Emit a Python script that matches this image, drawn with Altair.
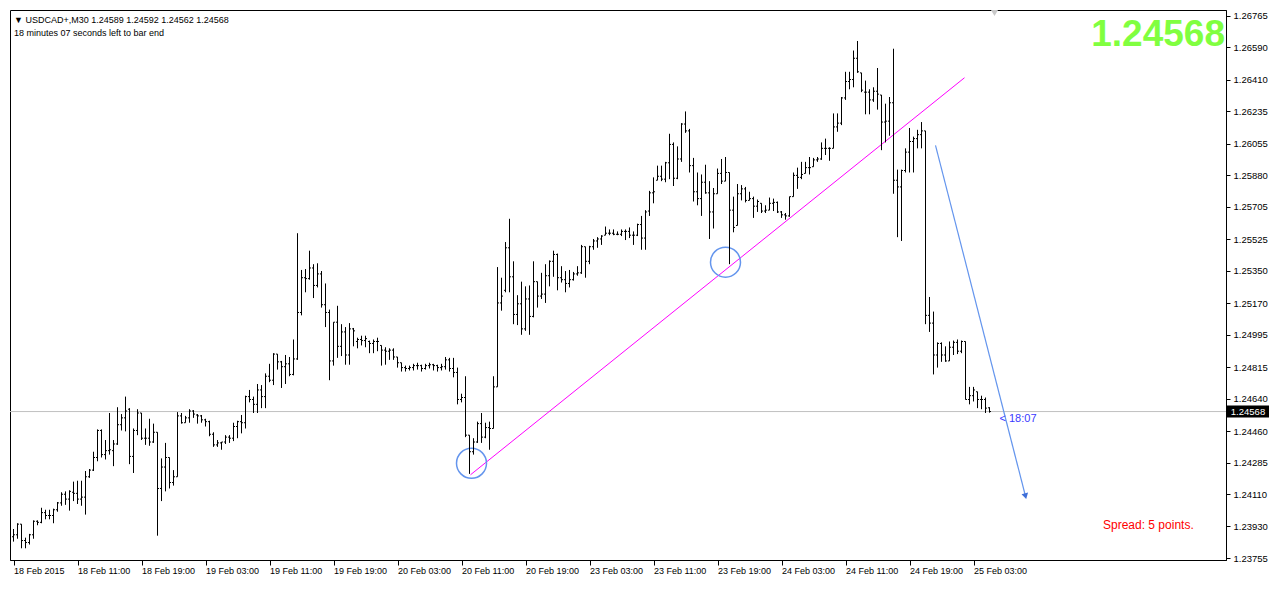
import altair as alt
import pandas as pd

# ---------------- data (USDCAD+, M30, bar 0 = 18 Feb 2015 03:00) ----------------
OPEN = [
    1.23873, 1.23884, 1.23943, 1.23852, 1.23841, 1.23884, 1.23959, 1.23953, 1.24007, 1.23991,
    1.23991, 1.24023, 1.24061, 1.24109, 1.24082, 1.24120, 1.24114, 1.24082, 1.24093, 1.24206,
    1.24243, 1.24313, 1.24463, 1.24329, 1.24351, 1.24351, 1.24388, 1.24495, 1.24533, 1.24581,
    1.24319, 1.24463, 1.24560, 1.24420, 1.24420, 1.24399, 1.24453, 1.24141, 1.24260, 1.24313,
    1.24174, 1.24206, 1.24544, 1.24506, 1.24533, 1.24571, 1.24549, 1.24544, 1.24522, 1.24512,
    1.24442, 1.24383, 1.24394, 1.24399, 1.24426, 1.24420, 1.24485, 1.24512, 1.24506, 1.24651,
    1.24635, 1.24608, 1.24688, 1.24651, 1.24764, 1.24742, 1.24887, 1.24844, 1.24817, 1.24833,
    1.24774, 1.24860, 1.25118, 1.25311, 1.25306, 1.25365, 1.25268, 1.25332, 1.25161, 1.25118,
    1.24849, 1.25064, 1.24930, 1.25010, 1.24882, 1.25027, 1.24957, 1.24968, 1.24962, 1.24957,
    1.24946, 1.24957, 1.24935, 1.24909, 1.24903, 1.24909, 1.24871, 1.24839, 1.24812, 1.24807,
    1.24812, 1.24823, 1.24823, 1.24807, 1.24823, 1.24828, 1.24823, 1.24812, 1.24817, 1.24855,
    1.24807, 1.24785, 1.24635, 1.24646, 1.24437, 1.24345, 1.24399, 1.24501, 1.24426, 1.24479,
    1.24474, 1.24705, 1.25171, 1.25241, 1.25477, 1.25316, 1.25107, 1.25166, 1.25027, 1.25193,
    1.25096, 1.25289, 1.25209, 1.25220, 1.25322, 1.25402, 1.25440, 1.25311, 1.25300, 1.25279,
    1.25300, 1.25332, 1.25338, 1.25483, 1.25402, 1.25483, 1.25515, 1.25526, 1.25547, 1.25558,
    1.25558, 1.25552, 1.25552, 1.25568, 1.25568, 1.25547, 1.25547, 1.25606, 1.25531, 1.25681,
    1.25782, 1.25852, 1.25874, 1.25858, 1.25949, 1.26051, 1.25863, 1.25970, 1.26164, 1.26126,
    1.25933, 1.25788, 1.25750, 1.25841, 1.25782, 1.25676, 1.25777, 1.25890, 1.25847, 1.25895,
    1.25686, 1.25601, 1.25777, 1.25804, 1.25740, 1.25750, 1.25708, 1.25724, 1.25681, 1.25686,
    1.25724, 1.25729, 1.25676, 1.25660, 1.25654, 1.25761, 1.25879, 1.25868, 1.25890, 1.25922,
    1.25927, 1.25965, 1.25970, 1.26029, 1.26029, 1.26029, 1.26148, 1.26169, 1.26309, 1.26400,
    1.26411, 1.26529, 1.26448, 1.26341, 1.26341, 1.26298, 1.26346, 1.26325, 1.26175, 1.26180,
    1.26282, 1.25852, 1.25815, 1.25906, 1.26008, 1.26067, 1.26083, 1.26105, 1.26126, 1.25102,
    1.25059, 1.24882, 1.24946, 1.24882, 1.24849, 1.24925, 1.24952, 1.24903, 1.24957, 1.24635,
    1.24656, 1.24678, 1.24635, 1.24635, 1.24589,
]
HIGH = [
    1.23916, 1.23948, 1.23943, 1.23868, 1.23889, 1.23964, 1.23964, 1.24034, 1.24023, 1.24023,
    1.24029, 1.24066, 1.24120, 1.24125, 1.24131, 1.24179, 1.24184, 1.24184, 1.24238, 1.24249,
    1.24345, 1.24469, 1.24469, 1.24410, 1.24560, 1.24410, 1.24592, 1.24554, 1.24651, 1.24587,
    1.24474, 1.24581, 1.24560, 1.24474, 1.24528, 1.24501, 1.24453, 1.24308, 1.24394, 1.24313,
    1.24243, 1.24565, 1.24560, 1.24544, 1.24581, 1.24576, 1.24554, 1.24549, 1.24528, 1.24517,
    1.24453, 1.24410, 1.24399, 1.24437, 1.24437, 1.24506, 1.24517, 1.24549, 1.24656, 1.24688,
    1.24651, 1.24721, 1.24715, 1.24780, 1.24833, 1.24892, 1.24887, 1.24849, 1.24882, 1.24871,
    1.24968, 1.25558, 1.25354, 1.25359, 1.25461, 1.25386, 1.25391, 1.25348, 1.25279, 1.25134,
    1.25064, 1.25155, 1.25053, 1.25037, 1.25059, 1.25032, 1.24978, 1.24989, 1.24989, 1.24962,
    1.24968, 1.24978, 1.24935, 1.24925, 1.24919, 1.24919, 1.24871, 1.24839, 1.24823, 1.24823,
    1.24833, 1.24839, 1.24828, 1.24833, 1.24839, 1.24833, 1.24828, 1.24833, 1.24871, 1.24866,
    1.24866, 1.24812, 1.24667, 1.24764, 1.24437, 1.24420, 1.24512, 1.24560, 1.24506, 1.24512,
    1.24764, 1.25370, 1.25311, 1.25509, 1.25638, 1.25402, 1.25214, 1.25289, 1.25263, 1.25268,
    1.25402, 1.25289, 1.25338, 1.25386, 1.25407, 1.25461, 1.25445, 1.25375, 1.25348, 1.25354,
    1.25343, 1.25375, 1.25493, 1.25483, 1.25488, 1.25526, 1.25536, 1.25547, 1.25595, 1.25579,
    1.25579, 1.25568, 1.25579, 1.25579, 1.25590, 1.25568, 1.25611, 1.25654, 1.25686, 1.25793,
    1.25868, 1.25933, 1.25933, 1.25954, 1.26110, 1.26062, 1.26040, 1.26169, 1.26234, 1.26137,
    1.25976, 1.25895, 1.25884, 1.25938, 1.25847, 1.25809, 1.25917, 1.25970, 1.25981, 1.25895,
    1.25761, 1.25831, 1.25825, 1.25815, 1.25788, 1.25761, 1.25745, 1.25724, 1.25713, 1.25756,
    1.25750, 1.25734, 1.25681, 1.25670, 1.25761, 1.25895, 1.25922, 1.25954, 1.25954, 1.25981,
    1.25976, 1.25981, 1.26062, 1.26083, 1.26035, 1.26223, 1.26223, 1.26314, 1.26454, 1.26454,
    1.26572, 1.26625, 1.26448, 1.26405, 1.26357, 1.26368, 1.26475, 1.26325, 1.26277, 1.26314,
    1.26582, 1.25911, 1.25911, 1.26029, 1.26142, 1.26094, 1.26132, 1.26175, 1.26126, 1.25204,
    1.25123, 1.24952, 1.24952, 1.24930, 1.24957, 1.24962, 1.24968, 1.24962, 1.24957, 1.24705,
    1.24705, 1.24678, 1.24656, 1.24646, 1.24592,
]
LOW = [
    1.23846, 1.23862, 1.23809, 1.23809, 1.23830, 1.23862, 1.23937, 1.23948, 1.23970, 1.23970,
    1.23948, 1.24012, 1.24045, 1.24050, 1.24018, 1.24071, 1.24055, 1.24045, 1.23996, 1.24200,
    1.24238, 1.24292, 1.24313, 1.24302, 1.24329, 1.24265, 1.24383, 1.24463, 1.24458, 1.24276,
    1.24227, 1.24437, 1.24410, 1.24383, 1.24378, 1.24394, 1.23879, 1.24071, 1.24125, 1.24141,
    1.24157, 1.24206, 1.24501, 1.24506, 1.24506, 1.24533, 1.24501, 1.24506, 1.24485, 1.24431,
    1.24372, 1.24372, 1.24356, 1.24388, 1.24394, 1.24404, 1.24420, 1.24447, 1.24474, 1.24619,
    1.24560, 1.24560, 1.24587, 1.24587, 1.24731, 1.24715, 1.24801, 1.24699, 1.24721, 1.24764,
    1.24769, 1.24855, 1.25102, 1.25230, 1.25300, 1.25198, 1.25257, 1.25145, 1.25037, 1.24742,
    1.24823, 1.24866, 1.24876, 1.24828, 1.24828, 1.24930, 1.24919, 1.24935, 1.24925, 1.24892,
    1.24892, 1.24903, 1.24823, 1.24828, 1.24855, 1.24855, 1.24812, 1.24790, 1.24790, 1.24796,
    1.24796, 1.24801, 1.24790, 1.24801, 1.24807, 1.24796, 1.24790, 1.24796, 1.24801, 1.24790,
    1.24758, 1.24608, 1.24619, 1.24426, 1.24222, 1.24329, 1.24394, 1.24394, 1.24420, 1.24356,
    1.24474, 1.24705, 1.25128, 1.25230, 1.25230, 1.25053, 1.25048, 1.24994, 1.25016, 1.24994,
    1.25091, 1.25145, 1.25193, 1.25171, 1.25263, 1.25316, 1.25241, 1.25284, 1.25230, 1.25257,
    1.25295, 1.25322, 1.25332, 1.25311, 1.25386, 1.25466, 1.25477, 1.25493, 1.25547, 1.25547,
    1.25547, 1.25547, 1.25542, 1.25520, 1.25531, 1.25493, 1.25542, 1.25466, 1.25466, 1.25654,
    1.25724, 1.25852, 1.25847, 1.25841, 1.25858, 1.25820, 1.25858, 1.25954, 1.26115, 1.25895,
    1.25734, 1.25713, 1.25654, 1.25777, 1.25526, 1.25584, 1.25777, 1.25831, 1.25847, 1.25386,
    1.25563, 1.25601, 1.25740, 1.25729, 1.25740, 1.25643, 1.25676, 1.25670, 1.25670, 1.25686,
    1.25681, 1.25670, 1.25643, 1.25633, 1.25649, 1.25761, 1.25804, 1.25858, 1.25890, 1.25884,
    1.25927, 1.25954, 1.25965, 1.25992, 1.25960, 1.26029, 1.26121, 1.26158, 1.26298, 1.26357,
    1.26368, 1.26448, 1.26341, 1.26218, 1.26218, 1.26287, 1.26244, 1.26019, 1.26062, 1.26099,
    1.25777, 1.25536, 1.25515, 1.25895, 1.25895, 1.25895, 1.26029, 1.26029, 1.25053, 1.25010,
    1.24774, 1.24812, 1.24844, 1.24844, 1.24849, 1.24882, 1.24887, 1.24892, 1.24635, 1.24608,
    1.24624, 1.24587, 1.24581, 1.24560, 1.24562,
]
CLOSE = [
    1.23884, 1.23943, 1.23852, 1.23841, 1.23884, 1.23959, 1.23953, 1.24007, 1.23991, 1.23991,
    1.24023, 1.24061, 1.24109, 1.24082, 1.24125, 1.24114, 1.24082, 1.24093, 1.24206, 1.24243,
    1.24313, 1.24463, 1.24329, 1.24351, 1.24356, 1.24388, 1.24495, 1.24533, 1.24571, 1.24319,
    1.24463, 1.24560, 1.24420, 1.24420, 1.24399, 1.24453, 1.24141, 1.24260, 1.24313, 1.24174,
    1.24206, 1.24544, 1.24506, 1.24533, 1.24571, 1.24554, 1.24544, 1.24522, 1.24512, 1.24442,
    1.24383, 1.24394, 1.24399, 1.24426, 1.24420, 1.24485, 1.24512, 1.24506, 1.24651, 1.24635,
    1.24608, 1.24688, 1.24651, 1.24764, 1.24742, 1.24887, 1.24844, 1.24817, 1.24833, 1.24774,
    1.24860, 1.25118, 1.25311, 1.25306, 1.25365, 1.25268, 1.25332, 1.25161, 1.25118, 1.24849,
    1.25064, 1.24930, 1.25010, 1.24882, 1.25027, 1.25016, 1.24968, 1.24962, 1.24973, 1.24946,
    1.24957, 1.24957, 1.24909, 1.24903, 1.24909, 1.24871, 1.24839, 1.24812, 1.24807, 1.24812,
    1.24823, 1.24823, 1.24807, 1.24823, 1.24828, 1.24823, 1.24812, 1.24817, 1.24855, 1.24807,
    1.24785, 1.24635, 1.24646, 1.24437, 1.24345, 1.24399, 1.24501, 1.24426, 1.24479, 1.24474,
    1.24705, 1.25171, 1.25209, 1.25477, 1.25316, 1.25107, 1.25166, 1.25027, 1.25193, 1.25096,
    1.25289, 1.25209, 1.25220, 1.25322, 1.25402, 1.25440, 1.25311, 1.25300, 1.25279, 1.25300,
    1.25332, 1.25338, 1.25483, 1.25402, 1.25483, 1.25515, 1.25526, 1.25542, 1.25558, 1.25558,
    1.25552, 1.25552, 1.25568, 1.25568, 1.25547, 1.25547, 1.25606, 1.25531, 1.25676, 1.25782,
    1.25788, 1.25874, 1.25858, 1.25949, 1.26051, 1.25863, 1.25970, 1.26164, 1.26126, 1.25933,
    1.25788, 1.25750, 1.25841, 1.25782, 1.25676, 1.25777, 1.25890, 1.25847, 1.25895, 1.25686,
    1.25590, 1.25777, 1.25804, 1.25740, 1.25750, 1.25708, 1.25734, 1.25681, 1.25686, 1.25724,
    1.25729, 1.25676, 1.25660, 1.25654, 1.25761, 1.25879, 1.25868, 1.25884, 1.25922, 1.25922,
    1.25965, 1.25970, 1.26029, 1.26029, 1.26029, 1.26148, 1.26169, 1.26309, 1.26400, 1.26411,
    1.26529, 1.26454, 1.26352, 1.26341, 1.26298, 1.26346, 1.26330, 1.26175, 1.26180, 1.26282,
    1.25852, 1.25815, 1.25906, 1.26008, 1.26067, 1.26083, 1.26105, 1.26126, 1.25102, 1.25059,
    1.24882, 1.24946, 1.24882, 1.24849, 1.24925, 1.24952, 1.24903, 1.24957, 1.24635, 1.24656,
    1.24688, 1.24635, 1.24635, 1.24587, 1.24568,
]
assert len(OPEN) == len(HIGH) == len(LOW) == len(CLOSE)

TIME_TICK_BARS = [0, 16, 32, 48, 64, 80, 96, 112, 128, 144, 160, 176, 192, 208, 224, 240]
TIME_LABELS = ["18 Feb 2015", "18 Feb 11:00", "18 Feb 19:00", "19 Feb 03:00", "19 Feb 11:00",
               "19 Feb 19:00", "20 Feb 03:00", "20 Feb 11:00", "20 Feb 19:00", "23 Feb 03:00",
               "23 Feb 11:00", "23 Feb 19:00", "24 Feb 03:00", "24 Feb 11:00", "24 Feb 19:00",
               "25 Feb 03:00"]
PRICE_TICKS = [1.26765, 1.26590, 1.26410, 1.26235, 1.26055, 1.25880, 1.25705, 1.25525, 1.25350,
               1.25170, 1.24995, 1.24815, 1.24640, 1.24460, 1.24285, 1.24110, 1.23930, 1.23755]
LAST_PRICE = 1.24568

TREND_BARS = [114.25, 237.75]
TREND_PRICES = [1.24217, 1.26421]
CIRCLE_BARS = [114.5, 178.0]
CIRCLE_PRICES = [1.24281, 1.25397]
ARROW_BARS = [230.5, 253.0]
ARROW_PRICES = [1.26046, 1.24098]

HEADER_1 = "\u25bc USDCAD+,M30  1.24589 1.24592 1.24562 1.24568"
HEADER_2 = "18 minutes 07 seconds left to bar end"
BIG_PRICE = "1.24568"
SPREAD_TEXT = "Spread: 5 points."
TIMER_TEXT = "< 18:07"

# ---------------- layout ----------------
W, H = 1216, 550
FONT = "Liberation Sans"
XDOM = [-0.875, 303.125]          # exactly 4 px per bar, bars on pixel centres
YDOM = [1.23744, 1.26797]

bars = pd.DataFrame({"bar": list(range(len(OPEN))), "o": OPEN, "h": HIGH, "l": LOW, "c": CLOSE})
bars["bl"] = bars["bar"] - 0.375
bars["br"] = bars["bar"] + 0.375

xs = alt.Scale(domain=XDOM, nice=False, zero=False)
ys = alt.Scale(domain=YDOM, nice=False, zero=False)

label_array = "[" + ",".join("'%s'" % s for s in TIME_LABELS) + "]"
xaxis = alt.Axis(values=TIME_TICK_BARS, labelExpr=label_array + "[round(datum.value/16)]",
                 title=None, grid=False, tickSize=5, tickColor="black", domainColor="black",
                 labelAlign="left", labelFont=FONT, labelFontSize=9, labelColor="black",
                 labelPadding=1, labelFlush=False, labelOverlap=False, labelBound=False)
yaxis = alt.Axis(orient="right", values=PRICE_TICKS, format=".5f", title=None, grid=False,
                 tickSize=4, tickColor="black", domainColor="black", labelFont=FONT,
                 labelFontSize=9.5, labelColor="black", labelPadding=3, labelOverlap=False,
                 labelFlush=False)


def X(f, **kw):
    return alt.X(f, type="quantitative", scale=xs, axis=xaxis, **kw)


def Y(f, **kw):
    return alt.Y(f, type="quantitative", scale=ys, axis=yaxis, **kw)


last_df = pd.DataFrame({"price": [LAST_PRICE], "label": [f"{LAST_PRICE:.5f}"]})

hl = alt.Chart(bars).mark_rule(color="black", strokeWidth=1).encode(
    x=X("bar"), y=Y("l"), y2="h:Q")
open_tick = alt.Chart(bars).mark_rule(color="black", strokeWidth=1).encode(
    x=X("bl"), x2="bar:Q", y=Y("o"))
close_tick = alt.Chart(bars).mark_rule(color="black", strokeWidth=1).encode(
    x=X("bar"), x2="br:Q", y=Y("c"))

price_line = alt.Chart(last_df).mark_rule(color="#c0c0c0", strokeWidth=1).encode(y=Y("price"))

trend = alt.Chart(pd.DataFrame({"bar": TREND_BARS, "price": TREND_PRICES})).mark_line(
    color="#ff00ff", strokeWidth=1).encode(x=X("bar"), y=Y("price"))

circles = alt.Chart(pd.DataFrame({"bar": CIRCLE_BARS, "price": CIRCLE_PRICES})).mark_point(
    shape="circle", filled=False, size=900, color="#6495ed", strokeWidth=1.5, opacity=1
).encode(x=X("bar"), y=Y("price"))

arrow_df = pd.DataFrame({"bar": ARROW_BARS, "price": ARROW_PRICES})
arrow_line = alt.Chart(arrow_df).mark_line(color="#6495ed", strokeWidth=1.2).encode(
    x=X("bar"), y=Y("price"))
arrow_head = alt.Chart(arrow_df.iloc[[1]]).mark_point(
    shape="triangle-down", filled=True, size=45, angle=346, color="#3f6fd8", opacity=1
).encode(x=X("bar"), y=Y("price"))

shift_marker = alt.Chart(pd.DataFrame({"bar": [245.25]})).mark_point(
    shape="triangle-down", filled=True, size=50, color="#c8c8c8", opacity=1
).encode(x=X("bar"), y=alt.value(3))

txt = dict(font=FONT, align="left", baseline="middle")
header1 = alt.Chart(pd.DataFrame({"t": [HEADER_1]})).mark_text(
    fontSize=9, color="black", **txt).encode(x=alt.value(4), y=alt.value(10), text="t:N")
header2 = alt.Chart(pd.DataFrame({"t": [HEADER_2]})).mark_text(
    fontSize=9, color="black", **txt).encode(x=alt.value(4), y=alt.value(23), text="t:N")
big = alt.Chart(pd.DataFrame({"t": [BIG_PRICE]})).mark_text(
    fontSize=37, fontWeight="bold", color="#80ff40", font=FONT, align="right",
    baseline="middle").encode(x=alt.value(W - 1), y=alt.value(25), text="t:N")
spread = alt.Chart(pd.DataFrame({"t": [SPREAD_TEXT]})).mark_text(
    fontSize=12, color="#ff0000", **txt).encode(x=alt.value(1093), y=alt.value(515), text="t:N")
timer = alt.Chart(pd.DataFrame({"bar": [246.5], "price": [1.24528], "t": [TIMER_TEXT]})).mark_text(
    fontSize=11, color="#3a3aff", **txt).encode(x=X("bar"), y=Y("price"), text="t:N")

box = alt.Chart(last_df).mark_tick(orient="horizontal", size=42, thickness=12, color="black",
                                   opacity=1).encode(x=alt.value(W + 22), y=Y("price"))
box_text = alt.Chart(last_df).mark_text(color="white", font=FONT, fontSize=9.5, align="center",
                                        baseline="middle").encode(
    x=alt.value(W + 22), y=Y("price"), text="label:N")

chart = alt.layer(
    price_line, trend, circles, arrow_line, arrow_head, hl, open_tick, close_tick,
    shift_marker, header1, header2, big, spread, timer, box, box_text,
).properties(
    width=W, height=H, padding={"left": 1, "top": 1, "right": 0, "bottom": 0},
    background="white",
).configure_view(stroke="black", strokeWidth=1)

chart.save("out.html", embed_options={"renderer": "svg", "actions": False})
